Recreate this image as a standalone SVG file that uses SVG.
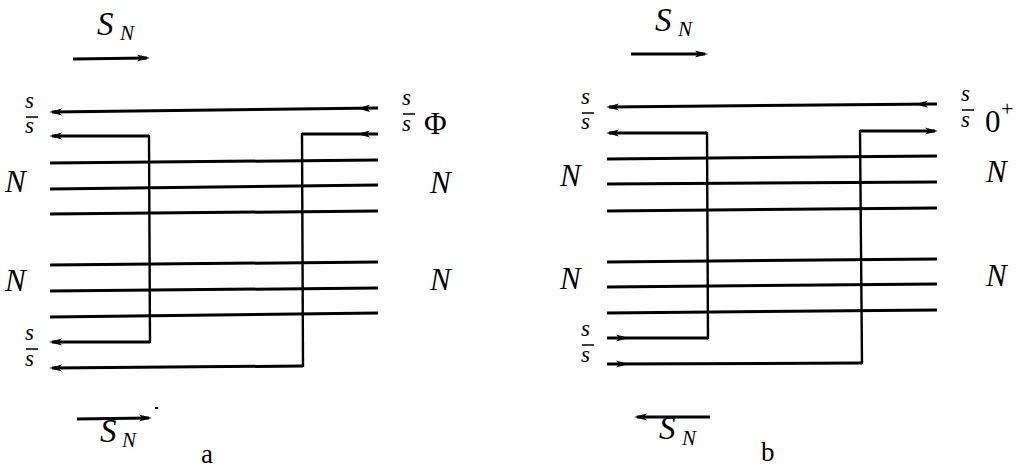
<svg xmlns="http://www.w3.org/2000/svg" xmlns:xlink="http://www.w3.org/1999/xlink" width="1031" height="470" viewBox="0 0 1031 470">
  <style>
    .ln { fill: none; stroke: #000; stroke-width: 3; stroke-linejoin: miter; }
    .vt { fill: none; stroke: #000; stroke-width: 2.4; }
    .bar { stroke: #000; stroke-width: 1.5; }
    .it { font-family: "Liberation Serif", "Times New Roman", serif; font-style: italic; fill: #000; }
    .rm { font-family: "Liberation Serif", "Times New Roman", serif; fill: #000; }
    .big { font-size: 31px; }
    .sl { font-size: 33px; }
    .q { font-size: 23px; }
    .sub { font-size: 21px; }
  </style>
  <defs>
    <!-- arrowhead pointing right, tip at the origin -->
    <path id="ah" d="M0,0 L-13,-3.6 L-10,0 L-13,3.6 Z" fill="#000"/>
    <!-- arrowhead pointing left, tip at the origin -->
    <path id="ahl" d="M0,0 L13,-3.6 L10,0 L13,3.6 Z" fill="#000"/>
  </defs>

  <!-- ===== panel a ===== -->
  <g id="panel-a-lines">
    <!-- direction arrows -->
    <path class="ln" d="M73,59 L147,58"/>
    <use xlink:href="#ah" x="150" y="58"/>
    <path class="ln" d="M77,419 L149,418"/>
    <use xlink:href="#ah" x="152" y="418"/>
    <rect x="155" y="407" width="3" height="2" fill="#000"/>

    <!-- strange quark lines -->
    <path class="ln" d="M52,112 L378,108"/>
    <use xlink:href="#ahl" x="49" y="112"/>
    <use xlink:href="#ahl" x="357" y="108.3"/>

    <path class="ln" d="M52,136 L149,136"/>
    <path class="vt" d="M149,135 L150,343"/>
    <path class="ln" d="M150,342 L52,342"/>
    <use xlink:href="#ahl" x="49" y="136"/>
    <use xlink:href="#ahl" x="49" y="342"/>

    <path class="ln" d="M378,134 L302,134"/>
    <path class="vt" d="M302,133 L303,367"/>
    <path class="ln" d="M303,366 L52,368"/>
    <use xlink:href="#ahl" x="357" y="134"/>
    <use xlink:href="#ahl" x="49" y="368"/>

    <!-- N-quark bundles -->
    <path class="ln" d="M50,163 L378,160"/>
    <path class="ln" d="M50,189 L378,185"/>
    <path class="ln" d="M50,214 L378,211"/>
    <path class="ln" d="M50,265 L378,262"/>
    <path class="ln" d="M50,291 L378,288"/>
    <path class="ln" d="M50,317 L378,313"/>
  </g>

  <g id="panel-a-labels">
    <g id="a-sn-top">
      <text class="it sl" x="97" y="35">S</text>
      <text class="it sub" x="120" y="40">N</text>
    </g>
    <g id="a-ss-left-top">
      <text class="it q" x="25" y="108">s</text>
      <line class="bar" x1="26" y1="117" x2="38" y2="117"/>
      <text class="it q" x="25" y="133">s</text>
    </g>
    <g id="a-ss-left-bottom">
      <text class="it q" x="25" y="340">s</text>
      <line class="bar" x1="26" y1="349" x2="38" y2="349"/>
      <text class="it q" x="25" y="366">s</text>
    </g>
    <g id="a-ss-right">
      <text class="it q" x="402" y="105">s</text>
      <line class="bar" x1="403" y1="114" x2="415" y2="114"/>
      <text class="it q" x="402" y="131">s</text>
      <text class="rm" x="424" y="134" font-size="31">Φ</text>
    </g>
    <text class="it big" x="5" y="192">N</text>
    <text class="it big" x="5" y="291">N</text>
    <text class="it big" x="430" y="193">N</text>
    <text class="it big" x="430" y="290">N</text>
    <g id="a-sn-bottom">
      <text class="it sl" x="100" y="442">S</text>
      <text class="it sub" x="122" y="447">N</text>
    </g>
    <text class="rm" x="201" y="463" font-size="27">a</text>
  </g>

  <!-- ===== panel b ===== -->
  <g id="panel-b-lines">
    <path class="ln" d="M631,54 L705,54"/>
    <use xlink:href="#ah" x="708" y="54"/>
    <path class="ln" d="M710,417 L637,417"/>
    <use xlink:href="#ahl" x="634" y="417"/>

    <path class="ln" d="M609,107 L937,104"/>
    <use xlink:href="#ahl" x="606" y="107"/>
    <use xlink:href="#ahl" x="915" y="104.2"/>

    <path class="ln" d="M609,133 L707,133"/>
    <path class="vt" d="M707,132 L708,339"/>
    <path class="ln" d="M708,338 L607,338"/>
    <use xlink:href="#ahl" x="606" y="133"/>
    <use xlink:href="#ah" x="629" y="338"/>

    <path class="ln" d="M935,131 L860,131"/>
    <path class="vt" d="M860,130 L862,364"/>
    <path class="ln" d="M862,363 L607,364"/>
    <use xlink:href="#ah" x="938" y="131"/>
    <use xlink:href="#ah" x="629" y="364"/>

    <path class="ln" d="M607,159 L937,156"/>
    <path class="ln" d="M607,184 L937,182"/>
    <path class="ln" d="M607,211 L937,208"/>
    <path class="ln" d="M607,262 L937,259"/>
    <path class="ln" d="M607,287 L937,284"/>
    <path class="ln" d="M607,313 L937,310"/>
  </g>

  <g id="panel-b-labels">
    <g id="b-sn-top">
      <text class="it sl" x="655" y="31">S</text>
      <text class="it sub" x="678" y="36">N</text>
    </g>
    <g id="b-ss-left-top">
      <text class="it q" x="581" y="104">s</text>
      <line class="bar" x1="582" y1="113" x2="594" y2="113"/>
      <text class="it q" x="581" y="129">s</text>
    </g>
    <g id="b-ss-left-bottom">
      <text class="it q" x="581" y="336">s</text>
      <line class="bar" x1="582" y1="345" x2="594" y2="345"/>
      <text class="it q" x="581" y="362">s</text>
    </g>
    <g id="b-ss-right">
      <text class="it q" x="961" y="101">s</text>
      <line class="bar" x1="962" y1="110" x2="974" y2="110"/>
      <text class="it q" x="961" y="127">s</text>
      <text class="rm" x="985" y="132" font-size="31">0</text>
      <text class="rm" x="1001" y="116" font-size="22">+</text>
    </g>
    <text class="it big" x="560" y="186">N</text>
    <text class="it big" x="560" y="289">N</text>
    <text class="it big" x="986" y="182">N</text>
    <text class="it big" x="986" y="286">N</text>
    <g id="b-sn-bottom">
      <text class="it sl" x="659" y="439">S</text>
      <text class="it sub" x="682" y="445">N</text>
    </g>
    <text class="rm" x="761" y="461" font-size="27">b</text>
  </g>
</svg>
